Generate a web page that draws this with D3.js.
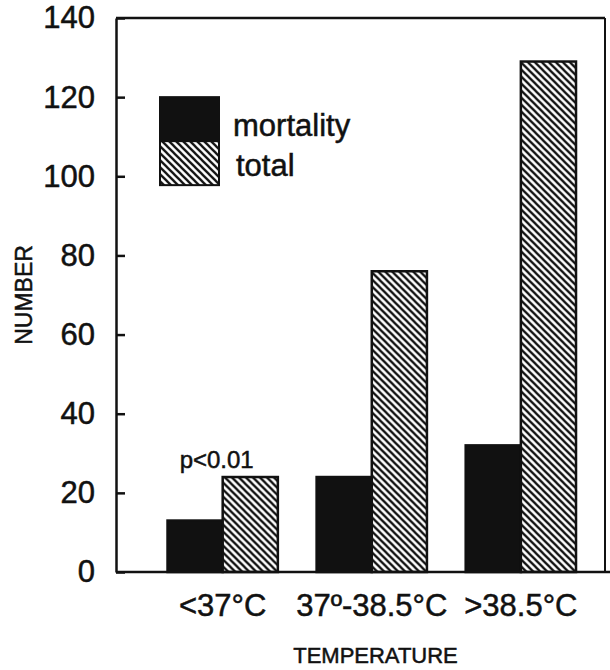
<!DOCTYPE html>
<html>
<head>
<meta charset="utf-8">
<script src="https://cdn.jsdelivr.net/npm/d3@7.9.0/dist/d3.min.js"></script>
<style>
  body { margin: 0; background: #fff; }
  svg { display: block; font-family: "Liberation Sans", Arial, sans-serif; }
  text { stroke: #111; stroke-width: 0.5px; }
</style>
</head>
<body>
<div id="chart"></div>
<script>
const categories = ['<37°C', '37º-38.5°C', '>38.5°C'];
const seriesNames = ['mortality', 'total'];
const mortality = [13, 24, 32];
const total = [24, 76, 129];
const yTicks = [0, 20, 40, 60, 80, 100, 120, 140];

const width = 610;
const height = 670;
const margin = { top: 18, right: 5, bottom: 98, left: 116 };

const rows = categories.map((c, i) => ({ cat: c, mortality: mortality[i], total: total[i] }));

const svg = d3.select('#chart')
  .append('svg')
  .attr('width', width)
  .attr('height', height);

// hatch for the "total" bars
const defs = svg.append('defs');
const hatch = defs.append('pattern')
  .attr('id', 'hatch')
  .attr('patternUnits', 'userSpaceOnUse')
  .attr('width', 7)
  .attr('height', 7);
hatch.append('rect').attr('width', 7).attr('height', 7).attr('fill', '#fff');
hatch.append('path')
  .attr('d', 'M-2,5 L2,9 M0,0 L7,7 M5,-2 L9,2')
  .attr('stroke', '#111')
  .attr('stroke-width', 2.3);

const fills = { mortality: '#111', total: 'url(#hatch)' };

const y = d3.scaleLinear()
  .domain([0, 140])
  .range([height - margin.bottom, margin.top]);

const x = d3.scaleBand()
  .domain(categories)
  .range([margin.left, width - margin.right])
  .paddingInner(0.26)
  .paddingOuter(0.27)
  .align(0.64);

const xSub = d3.scaleBand()
  .domain(seriesNames)
  .range([0, x.bandwidth()]);

// bars
const groups = svg.append('g')
  .selectAll('g')
  .data(rows)
  .join('g')
  .attr('transform', d => `translate(${x(d.cat)},0)`);

groups.selectAll('rect')
  .data(d => seriesNames.map(k => ({ key: k, value: d[k] })))
  .join('rect')
  .attr('x', d => xSub(d.key))
  .attr('y', d => y(d.value))
  .attr('width', xSub.bandwidth())
  .attr('height', d => y(0) - y(d.value))
  .attr('fill', d => fills[d.key])
  .attr('stroke', '#111')
  .attr('stroke-width', 2.5);

// left axis, ticks pointing inward
const yAxis = svg.append('g')
  .attr('transform', `translate(${margin.left},0)`)
  .call(d3.axisLeft(y).tickValues(yTicks).tickSizeInner(-9).tickSizeOuter(0).tickPadding(21));
yAxis.select('.domain').attr('stroke', '#111').attr('stroke-width', 2.5);
yAxis.selectAll('.tick line').attr('stroke', '#111').attr('stroke-width', 2.5);
yAxis.selectAll('.tick text')
  .attr('font-size', 31)
  .attr('fill', '#111')
  .attr('font-family', '"Liberation Sans", Arial, sans-serif');

// frame: top and right edges, baseline to the page edge
svg.append('line')
  .attr('x1', margin.left).attr('x2', width - margin.right)
  .attr('y1', y(140)).attr('y2', y(140))
  .attr('stroke', '#111').attr('stroke-width', 2.5);
svg.append('line')
  .attr('x1', width - margin.right).attr('x2', width - margin.right)
  .attr('y1', y(140)).attr('y2', y(0))
  .attr('stroke', '#111').attr('stroke-width', 2);
svg.append('line')
  .attr('x1', margin.left).attr('x2', width)
  .attr('y1', y(0)).attr('y2', y(0))
  .attr('stroke', '#111').attr('stroke-width', 2.5);

// category labels
const xAxis = svg.append('g')
  .attr('transform', `translate(0,${y(0)})`)
  .call(d3.axisBottom(x).tickSize(0).tickPadding(22));
xAxis.select('.domain').remove();
xAxis.selectAll('.tick text')
  .attr('font-size', 31)
  .attr('fill', '#111')
  .attr('font-family', '"Liberation Sans", Arial, sans-serif');

// axis titles
svg.append('text')
  .attr('x', (margin.left + width - margin.right) / 2 + 15)
  .attr('y', 663)
  .attr('text-anchor', 'middle')
  .attr('font-size', 22)
  .attr('stroke-width', 0.3)
  .attr('fill', '#111')
  .text('TEMPERATURE');

svg.append('text')
  .attr('transform', `translate(32,${y(70)}) rotate(-90)`)
  .attr('text-anchor', 'middle')
  .attr('font-size', 23)
  .attr('stroke-width', 0.3)
  .attr('fill', '#111')
  .text('NUMBER');

// significance note over the first group
svg.append('text')
  .attr('x', x(categories[0]) + x.bandwidth() / 2 - 6)
  .attr('y', y(total[0]) - 9)
  .attr('text-anchor', 'middle')
  .attr('font-size', 24)
  .attr('fill', '#111')
  .text('p<0.01');

// legend
const legend = svg.append('g').attr('transform', `translate(160,${y(120)})`);
seriesNames.forEach((k, i) => {
  legend.append('rect')
    .attr('x', 0)
    .attr('y', i * 44)
    .attr('width', 59)
    .attr('height', 44)
    .attr('fill', fills[k])
    .attr('stroke', '#111')
    .attr('stroke-width', 2);
  legend.append('text')
    .attr('x', 73 + i * 3)
    .attr('y', 39 + i * 40)
    .attr('font-size', 31)
    .attr('fill', '#111')
    .text(k);
});
</script>
</body>
</html>
